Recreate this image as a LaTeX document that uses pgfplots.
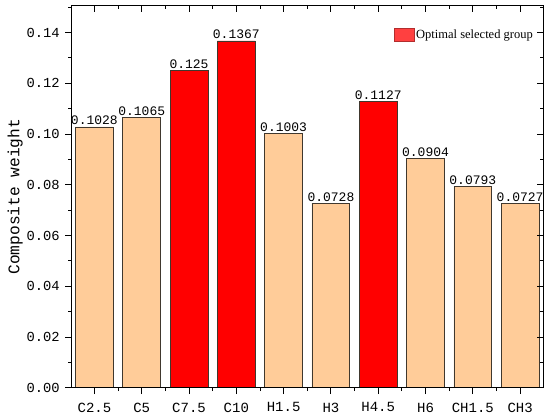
\documentclass[border=0pt]{standalone}
\usepackage{fontspec}
\setmainfont{Liberation Mono}
\newfontfamily\legfont{Liberation Serif}
\usepackage{pgfplots}
\usepackage{pgfplotstable}
\pgfplotsset{compat=1.18}
\definecolor{peach}{HTML}{FFCC99}
\definecolor{barred}{HTML}{FF0000}
\definecolor{legred}{HTML}{FF4040}
\definecolor{edge}{HTML}{40382E}

\pgfplotstableread{
x y label
0 0.1028 0.1028
1 0.1065 0.1065
4 0.1003 0.1003
5 0.0728 0.0728
7 0.0904 0.0904
8 0.0793 0.0793
9 0.0727 0.0727
}\peachdata

\pgfplotstableread{
x y label
2 0.125 0.125
3 0.1367 0.1367
6 0.1127 0.1127
}\reddata

\pgfplotsset{
  myax/.style={
    width=471.6bp, height=382bp, scale only axis,
    xmin=-0.48, xmax=9.49, ymin=0, ymax=0.1506,
    xtick={0,...,9}, minor xtick={-0.5,0.5,...,9.5},
    ytick={0,0.02,...,0.141}, minor ytick={0.01,0.03,...,0.15},
    major tick length=6.5bp, minor tick length=3.5bp,
    axis line style={line width=1bp, black},
    every tick/.style={line width=0.9bp, black},
  }
}

\begin{document}
\begin{tikzpicture}
\begin{axis}[myax,
  tick align=outside, xtick pos=left, ytick pos=left,
  xticklabels={C2.5,C5,C7.5,C10,H1.5,H3,H4.5,H6,CH1.5,CH3},
  /pgf/number format/assume math mode=true,
  yticklabel style={/pgf/number format/fixed,/pgf/number format/fixed zerofill,/pgf/number format/precision=2, font=\fontsize{13.8bp}{16bp}\selectfont, xshift=-2bp},
  xticklabel style={font=\fontsize{14bp}{16bp}\selectfont, yshift=-5bp},
  scaled y ticks=false,
  ylabel={Composite weight},
  ylabel style={font=\fontsize{16.2bp}{19bp}\selectfont, at={(axis description cs:-0.120,0.5)}, anchor=center},
  ybar, bar width=0.8, bar shift=0pt,
  point meta=explicit symbolic,
  nodes near coords,
  nodes near coords style={font=\fontsize{13bp}{15bp}\selectfont, inner sep=0pt, anchor=south, yshift=1.5bp},
  clip=false,
  legend style={draw=none, fill=none, at={(axis description cs:0.9824,0.9233)}, anchor=east, inner sep=0pt, font=\legfont\fontsize{12.5bp}{14bp}\selectfont},
  legend image code/.code={\draw[fill=legred, draw=legred!70!black, line width=0.6bp] (0bp,-6.3bp) rectangle (20bp,6.3bp);},
]
\addplot[fill=peach, draw=edge, line width=0.8bp, forget plot] table[x=x, y=y, meta=label] {\peachdata};
\addplot[fill=barred, draw=edge, line width=0.8bp] table[x=x, y=y, meta=label] {\reddata};
\addlegendentry{Optimal selected group}
\end{axis}
\begin{axis}[myax,
  tick align=inside, xtick pos=right, ytick pos=right,
  xticklabels={}, yticklabels={},
]
\end{axis}
\pgfresetboundingbox
\path (-71.7bp,-31.3bp) rectangle (478.3bp,387.7bp);
\end{tikzpicture}
\end{document}
